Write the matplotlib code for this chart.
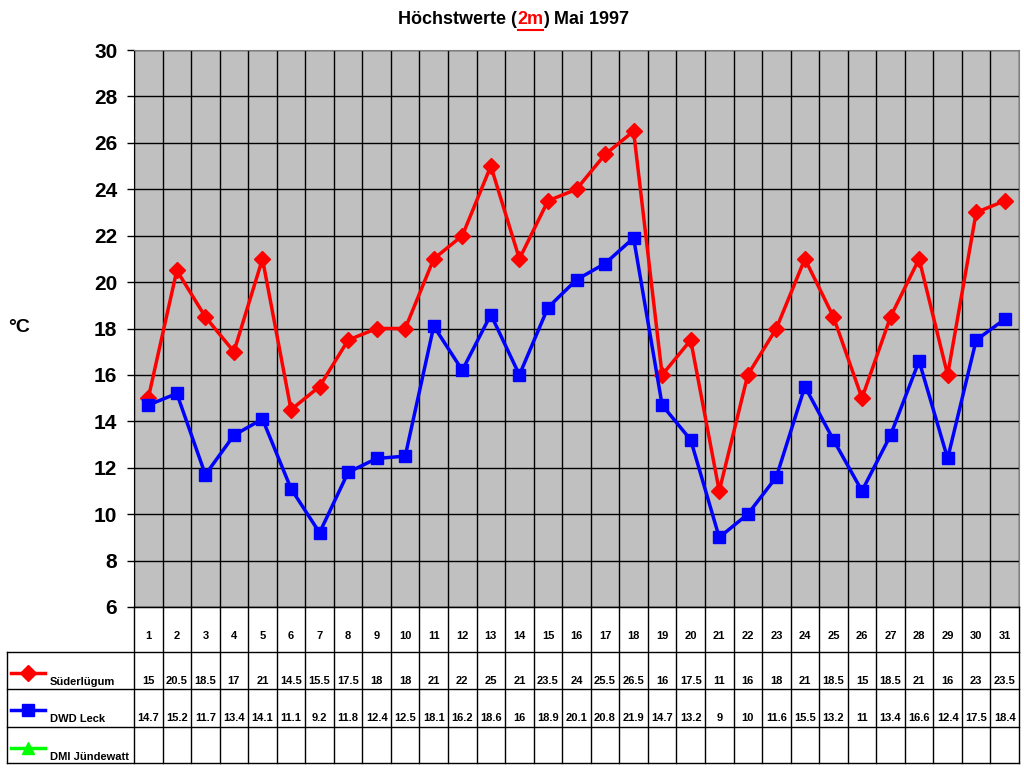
import matplotlib
matplotlib.use('Agg')
import matplotlib.pyplot as plt
import numpy as np

plt.rcParams['font.family'] = ['Liberation Sans', 'DejaVu Sans']

days = list(range(1, 32))
suederluegum = [15, 20.5, 18.5, 17, 21, 14.5, 15.5, 17.5, 18, 18, 21, 22, 25, 21,
                23.5, 24, 25.5, 26.5, 16, 17.5, 11, 16, 18, 21, 18.5, 15, 18.5,
                21, 16, 23, 23.5]
dwd_leck = [14.7, 15.2, 11.7, 13.4, 14.1, 11.1, 9.2, 11.8, 12.4, 12.5, 18.1, 16.2,
            18.6, 16, 18.9, 20.1, 20.8, 21.9, 14.7, 13.2, 9, 10, 11.6, 15.5, 13.2,
            11, 13.4, 16.6, 12.4, 17.5, 18.4]
series_names = ['Süderlügum', 'DWD Leck', 'DMI Jündewatt']
series_colors = ['#FF0000', '#0000FF', '#00FF00']
series_markers = ['D', 's', '^']

W, H = 1024, 768
fig = plt.figure(figsize=(W / 100, H / 100), dpi=100)

# ---- main plot area ----
L, R, T, B = 134, 1019, 50, 607
ax = fig.add_axes([L / W, 1 - B / H, (R - L) / W, (B - T) / H])
ax.set_facecolor('#C0C0C0')
ax.set_xlim(0.5, 31.5)
ax.set_ylim(6, 30)
for x in np.arange(0.5, 32, 1):
    ax.axvline(x, color='black', lw=1, zorder=1)
for y in range(6, 31, 2):
    ax.axhline(y, color='black', lw=1, zorder=1)
ax.plot(days, suederluegum, color=series_colors[0], marker='D', ms=8, lw=2.5, zorder=3)
ax.plot(days, dwd_leck, color=series_colors[1], marker='s', ms=9, lw=2.5, zorder=4)
ax.set_yticks(range(6, 31, 2))
ax.set_yticklabels([str(v) for v in range(6, 31, 2)], fontsize=15, fontweight='bold')
ax.tick_params(axis='y', length=5, width=1, direction='out', pad=7)
ax.set_xticks([])
for s in ax.spines.values():
    s.set_color('#808080')
ax.spines['left'].set_color('black')
ax.spines['bottom'].set_color('black')

fig.text(8 / W, 1 - 328 / H, '°C', fontsize=14, fontweight='bold', ha='left', va='center')

# ---- data table ----
tab = fig.add_axes([0, 0, 1, 1])
tab.set_xlim(0, W)
tab.set_ylim(H, 0)
tab.axis('off')
cw = (R - L) / 31
rows = [607, 652, 689, 727, 763]
for i in range(32):
    tab.plot([L + i * cw] * 2, [rows[0], rows[-1]], color='black', lw=1)
tab.plot([7, 7], [rows[1], rows[-1]], color='black', lw=1)
tab.plot([L, R], [rows[0], rows[0]], color='black', lw=1)
for yy in rows[1:]:
    tab.plot([7, R], [yy, yy], color='black', lw=1)
for i, d in enumerate(days):
    cx = L + (i + 0.5) * cw
    tab.text(cx, 636, str(d), fontsize=8, fontweight='bold', ha='center', va='center')
    for vals, yy in ((suederluegum, 681), (dwd_leck, 718)):
        v = vals[i]
        tab.text(cx, yy, f'{v:g}', fontsize=8, fontweight='bold', ha='center', va='center')
for k, name in enumerate(series_names):
    ly = rows[k + 1] + 21
    tab.plot([11, 45], [ly, ly], color=series_colors[k], lw=2.5)
    tab.plot([28], [ly], color=series_colors[k], marker=series_markers[k], ms=8)
    tab.text(50, ly + 9, name, fontsize=8, fontweight='bold', ha='left', va='center')

# ---- title with red underlined "2m" ----
fig.canvas.draw()
rend = fig.canvas.get_renderer()
ty = 1 - 20 / H
t1 = fig.text(0, ty, 'Höchstwerte (', fontsize=13, fontweight='bold', va='center')
t2 = fig.text(0, ty, '2m', fontsize=13, fontweight='bold', va='center', color='red')
t3 = fig.text(0, ty, ') Mai 1997', fontsize=13, fontweight='bold', va='center')
w1 = t1.get_window_extent(rend).width
w2 = t2.get_window_extent(rend).width
w3 = t3.get_window_extent(rend).width
x0 = 514 - (w1 + w2 + w3) / 2
t1.set_x(x0 / W)
t2.set_x((x0 + w1) / W)
t3.set_x((x0 + w1 + w2) / W)
tab.plot([x0 + w1 + 1, x0 + w1 + w2 - 1], [30, 30], color='red', lw=1.5)

fig.savefig('out.png', dpi=100, facecolor='white')
